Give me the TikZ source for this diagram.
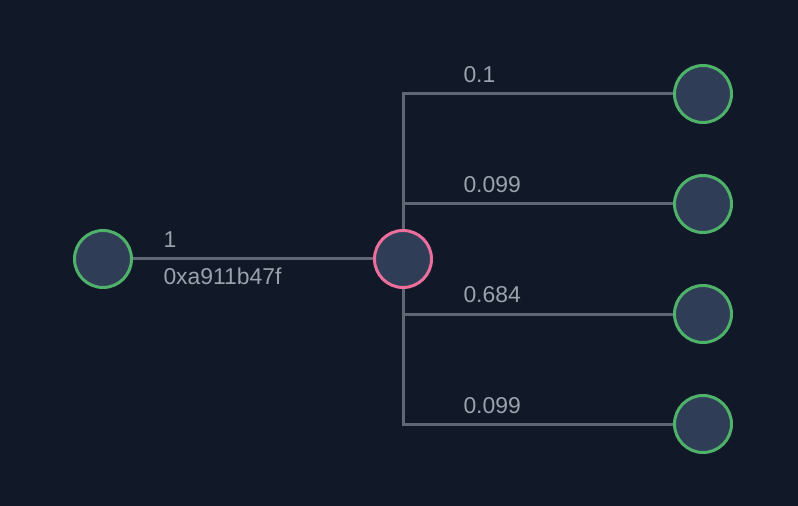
\documentclass[tikz,border=0pt]{standalone}
\usepackage{fontspec}
\setmainfont{Liberation Sans}

\definecolor{bg}{HTML}{111827}
\definecolor{nodefill}{HTML}{2F3D56}
\definecolor{leafring}{HTML}{4FB26A}
\definecolor{hubring}{HTML}{EC6E9B}
\definecolor{wiregray}{HTML}{5F6774}
\definecolor{txtgray}{HTML}{9AA2AD}

\begin{document}
\begin{tikzpicture}[x=1bp, y=-1bp, line width=3bp,
  leaf/.style={circle, draw=leafring, fill=nodefill, minimum size=57bp, inner sep=0pt},
  hub/.style={leaf, draw=hubring},
  link/.style={draw=wiregray},
  lbl/.style={text=txtgray, font=\fontsize{23}{27}\selectfont, inner sep=0pt, anchor=base west}]

\fill[bg] (0,0) rectangle (798,506);
\useasboundingbox (0,0) rectangle (798,506);

\node[leaf] (src) at (103,259) {};
\node[hub]  (mid) at (403,259) {};
\node[leaf] (out1) at (703,94) {};
\node[leaf] (out2) at (703,204) {};
\node[leaf] (out3) at (703,314) {};
\node[leaf] (out4) at (703,424) {};

\draw[link] (src) -- (mid);
\draw[link] (mid) |- (out1);
\draw[link] (mid) |- (out2);
\draw[link] (mid) |- (out3);
\draw[link] (mid) |- (out4);

% weights
\node[lbl] (w0) at (162,248) {1};
\node[lbl] (addr) at (162,285) {0xa911b47f};
\node[lbl] (w1) at (462,83) {0.1};
\node[lbl] (w2) at (462,193) {0.099};
\node[lbl] (w3) at (462,303) {0.684};
\node[lbl] (w4) at (462,413) {0.099};

\end{tikzpicture}
\end{document}
